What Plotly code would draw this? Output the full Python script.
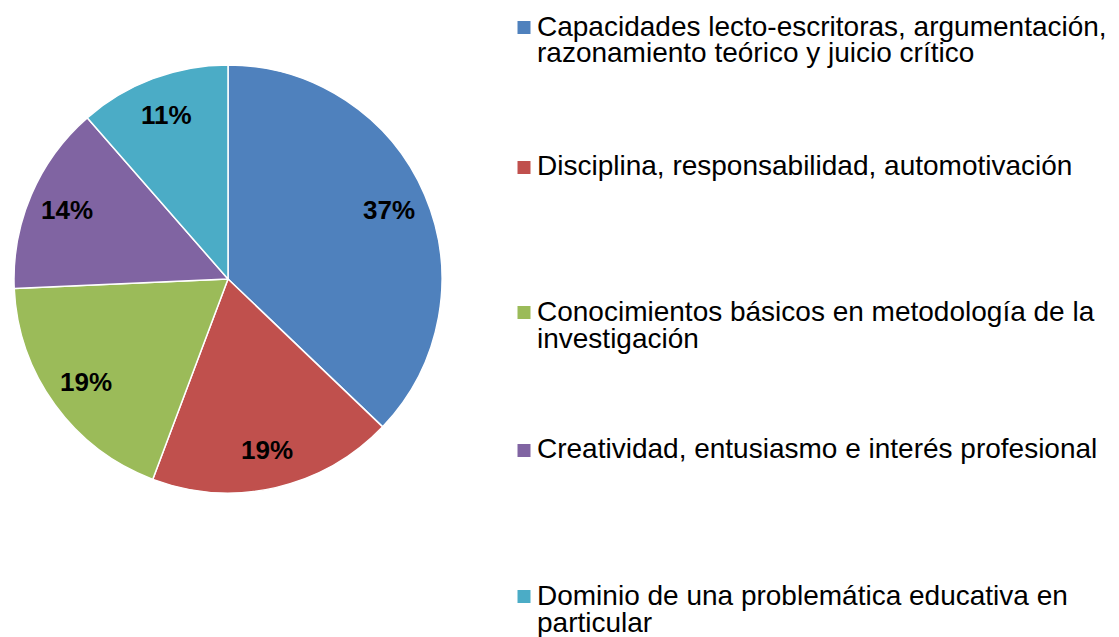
import math
import plotly.graph_objects as go

categories = [
    "Capacidades lecto-escritoras, argumentación,<br>razonamiento teórico y juicio crítico",
    "Disciplina, responsabilidad, automotivación",
    "Conocimientos básicos en metodología de la<br>investigación",
    "Creatividad, entusiasmo e interés profesional",
    "Dominio de una problemática educativa en<br>particular",
]
values = [26, 13, 13, 10, 8]
colors = ["#4F81BD", "#C0504D", "#9BBB59", "#8064A2", "#4BACC6"]

W, H = 1119, 637
cx, cy, R = 228, 279, 214
FONT = "Liberation Sans, Arial, sans-serif"

fig = go.Figure()
fig.add_trace(go.Pie(
    labels=[c.replace("<br>", " ") for c in categories],
    values=values,
    sort=False,
    direction="clockwise",
    rotation=0,
    marker=dict(colors=colors, line=dict(color="white", width=1.5)),
    textinfo="none",
    domain=dict(x=[(cx - R) / W, (cx + R) / W], y=[(H - cy - R) / H, (H - cy + R) / H]),
    showlegend=False,
    hoverinfo="label+percent",
))

annotations = []
shapes = []

# Percent labels (Excel "best fit" style: along each slice bisector, ~0.82 R)
total = sum(values)
cum = 0
for v in values:
    frac_mid = (cum + v / 2) / total
    cum += v
    ang = 2 * math.pi * frac_mid  # clockwise from 12 o'clock
    px = cx + 0.82 * R * math.sin(ang)
    py = cy - 0.82 * R * math.cos(ang)
    annotations.append(dict(
        text=f"{round(100 * v / total)}%", xref="paper", yref="paper",
        x=px / W, y=1 - py / H, xanchor="center", yanchor="middle", showarrow=False,
        font=dict(family=FONT, size=26, color="black", weight="bold"),
    ))

# Legend built as annotations + squares
legend_tops = [26, 166, 311, 449, 595]  # y of the first line of each entry (px)
line_gap = 27
for cat, col, y0 in zip(categories, colors, legend_tops):
    lines = cat.split("<br>")
    shapes.append(dict(type="rect", xref="paper", yref="paper",
                       x0=517.5 / W, x1=530.5 / W, y0=1 - (y0 - 5) / H, y1=1 - (y0 + 8) / H,
                       fillcolor=col, line=dict(width=0)))
    for i, ln in enumerate(lines):
        annotations.append(dict(
            text=ln, xref="paper", yref="paper", x=535 / W, y=1 - (y0 + i * line_gap) / H,
            xanchor="left", yanchor="middle", showarrow=False,
            font=dict(family=FONT, size=28, color="black"),
        ))

fig.update_layout(
    width=W, height=H,
    margin=dict(l=0, r=0, t=0, b=0),
    paper_bgcolor="white", plot_bgcolor="white",
    annotations=annotations, shapes=shapes,
)
fig.write_html("out.html", config={"displayModeBar": False},
               post_script="document.body.style.margin='0';")
